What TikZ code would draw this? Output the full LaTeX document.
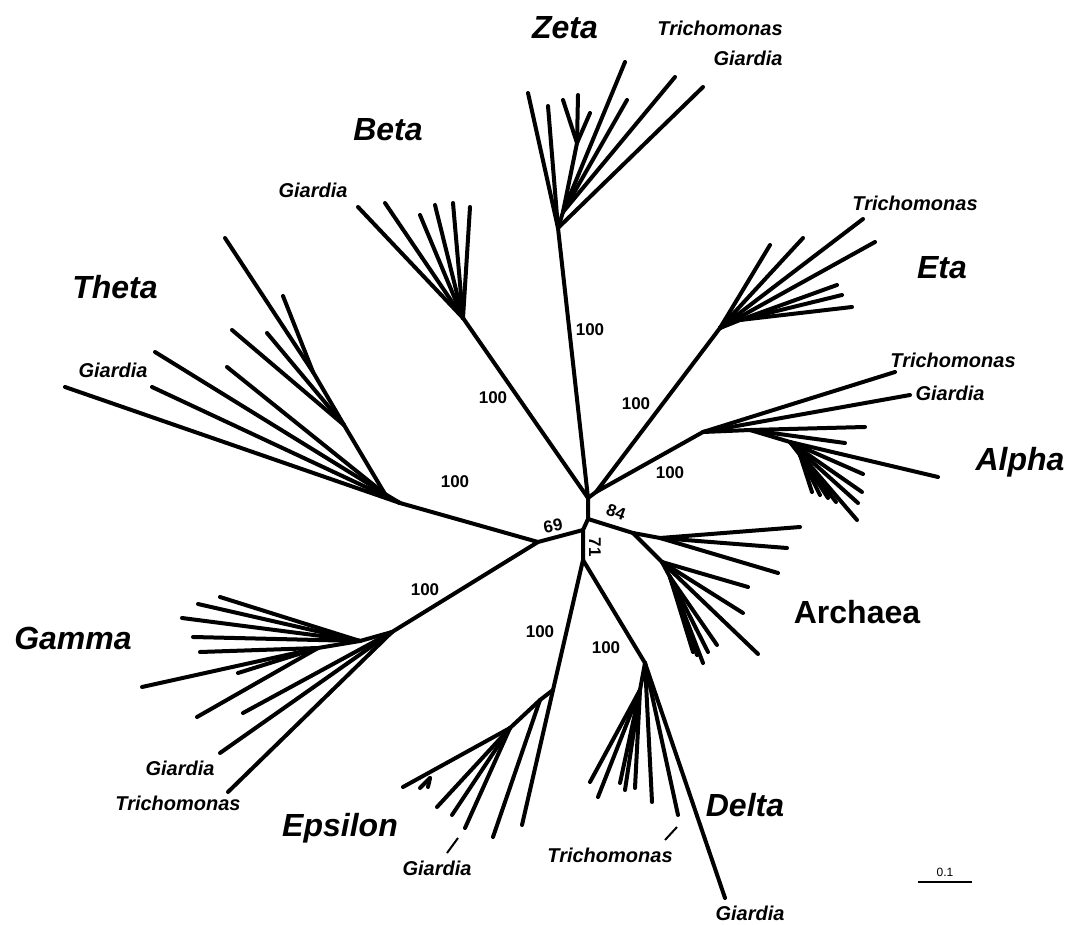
\documentclass[tikz,border=0pt]{standalone}
\usepackage{fontspec}
\setmainfont{Liberation Sans}
\usetikzlibrary{positioning}

\begin{document}
\begin{tikzpicture}[x=1pt, y=-1pt,
    br/.style={line width=4pt, line cap=round, line join=round},
    tick/.style={line width=2pt},
    clade/.style={font=\fontsize{32}{36}\selectfont\bfseries\itshape},
    taxon/.style={font=\fontsize{20}{23}\selectfont\bfseries\itshape},
    boot/.style={font=\fontsize{17}{20}\selectfont\bfseries, inner sep=0.5pt},
]
\useasboundingbox (0,0) rectangle (1073,925);

% backbone
\coordinate (TOP) at (588,498);
\coordinate (EA)  at (596,492);
\coordinate (MID) at (588,519);
\coordinate (LOW) at (583,530);
\coordinate (N69) at (538,542);
\coordinate (N71) at (583,560);
\coordinate (ZET) at (558,228);
\coordinate (BET) at (463,318);
\coordinate (ETA) at (720,328);
\coordinate (ALP) at (703,432);
\coordinate (ARC) at (633,533);
\coordinate (THE) at (400,503);
\coordinate (GAM) at (392,632);
\coordinate (EPS) at (553,690);
\coordinate (DEL) at (645,663);

\draw[br] (BET) -- (TOP) -- (ZET);
\draw[br] (TOP) -- (EA);
\draw[br] (ETA) -- (EA) -- (ALP);
\draw[br] (TOP) -- (MID) -- (ARC);
\draw[br] (MID) -- (LOW) -- (N71);
\draw[br] (LOW) -- (N69);
\draw[br] (THE) -- (N69) -- (GAM);
\draw[br] (EPS) -- (N71) -- (DEL);

% Zeta
\coordinate (ZE1) at (563,212);
\coordinate (ZE2) at (577,143);
\coordinate (ZTr) at (675,77);
\coordinate (ZGi) at (703,87);
\draw[br] (ZET) -- (ZE1) -- (ZE2);
\draw[br] (ZE1) -- (ZTr);
\draw[br] (ZET) -- (ZGi);
\foreach \p in {(528,93),(548,106)} \draw[br] (ZET) -- \p;
\foreach \p in {(625,62),(627,100)} \draw[br] (ZE1) -- \p;
\foreach \p in {(563,100),(578,95),(590,113)} \draw[br] (ZE2) -- \p;

% Beta
\coordinate (BGi) at (358,207);
\draw[br] (BET) -- (BGi);
\foreach \p in {(385,203),(420,215),(435,205),(453,203),(470,207)} \draw[br] (BET) -- \p;

% Theta
\coordinate (TH1) at (385,494);
\coordinate (TH2) at (344,425);
\coordinate (TH3) at (313,372);
\coordinate (THGi) at (65,387);
\draw[br] (THE) -- (TH1) -- (TH2) -- (TH3);
\draw[br] (THE) -- (THGi);
\draw[br] (THE) -- (152,387);
\foreach \p in {(155,352),(227,367)} \draw[br] (TH1) -- \p;
\foreach \p in {(232,330),(267,333)} \draw[br] (TH2) -- \p;
\foreach \p in {(225,238),(283,296)} \draw[br] (TH3) -- \p;

% Eta
\coordinate (ET1) at (740,320);
\coordinate (ETr) at (863,219);
\draw[br] (ETA) -- (ETr);
\draw[br] (ETA) -- (ET1);
\foreach \p in {(770,245),(803,238),(875,242)} \draw[br] (ETA) -- \p;
\foreach \p in {(837,285),(842,295),(852,307)} \draw[br] (ET1) -- \p;

% Alpha
\coordinate (AL1) at (750,430);
\coordinate (AL2) at (790,442);
\coordinate (AL3) at (800,455);
\coordinate (ATr) at (895,372);
\coordinate (AGi) at (910,395);
\draw[br] (ALP) -- (ATr);
\draw[br] (ALP) -- (AGi);
\draw[br] (ALP) -- (AL1) -- (AL2) -- (AL3);
\foreach \p in {(865,427),(845,443)} \draw[br] (AL1) -- \p;
\foreach \p in {(938,477),(863,474),(862,492),(858,503),(857,520)} \draw[br] (AL2) -- \p;
\foreach \p in {(812,492),(820,495),(828,498),(836,502)} \draw[br] (AL3) -- \p;

% Archaea
\coordinate (AR1) at (660,538);
\coordinate (AR2) at (662,562);
\coordinate (AR3) at (670,577);
\draw[br] (ARC) -- (AR1);
\draw[br] (ARC) -- (AR2) -- (AR3);
\foreach \p in {(800,527),(787,548),(778,573)} \draw[br] (AR1) -- \p;
\foreach \p in {(748,587),(743,613),(758,654)} \draw[br] (AR2) -- \p;
\foreach \p in {(703,663),(717,645),(697,655),(708,652),(693,652)} \draw[br] (AR3) -- \p;

% Gamma
\coordinate (GA1) at (360,641);
\coordinate (GA2) at (318,648);
\coordinate (GGi) at (220,753);
\coordinate (GTr) at (228,792);
\draw[br] (GAM) -- (GGi);
\draw[br] (GAM) -- (GTr);
\draw[br] (GAM) -- (243,713);
\draw[br] (GAM) -- (GA1) -- (GA2);
\foreach \p in {(220,597),(198,604),(182,618),(193,637)} \draw[br] (GA1) -- \p;
\foreach \p in {(200,652),(142,687),(238,673),(197,717)} \draw[br] (GA2) -- \p;

% Epsilon
\coordinate (EP1) at (540,700);
\coordinate (EP2) at (510,728);
\coordinate (EP3) at (430,778);
\coordinate (EGi) at (465,828);
\draw[br] (EPS) -- (522,825);
\draw[br] (EPS) -- (EP1) -- (EP2);
\draw[br] (EP1) -- (493,837);
\draw[br] (EP2) -- (EGi);
\foreach \p in {(452,815),(437,807),(403,787)} \draw[br] (EP2) -- \p;
\foreach \p in {(420,788),(428,787)} \draw[br] (EP3) -- \p;
\draw[tick] (458,838) -- (447,853);

% Delta
\coordinate (DE1) at (640,690);
\coordinate (DTr) at (678,815);
\coordinate (DGi) at (725,898);
\draw[br] (DEL) -- (DGi);
\draw[br] (DEL) -- (DTr);
\draw[br] (DEL) -- (652,802);
\draw[br] (DEL) -- (DE1);
\foreach \p in {(590,782),(598,797),(620,783),(625,790),(635,788)} \draw[br] (DE1) -- \p;
\draw[tick] (677,827) -- (665,840);

% clade names
\node[clade] (Zeta) at (565,28) {Zeta};
\node[clade] (Beta) at (388,130) {Beta};
\node[clade] (Theta) at (115,287) {Theta};
\node[clade] (Eta) at (942,268) {Eta};
\node[clade] (Alpha) at (1020,462) {Alpha};
\node[clade, font=\fontsize{32}{36}\selectfont\bfseries] (Archaea) at (857,612) {Archaea};
\node[clade] (Gamma) at (73,638) {Gamma};
\node[clade] (Epsilon) at (340,828) {Epsilon};
\node[clade] (Delta) at (745,805) {Delta};

% taxa
\node[taxon] (ZTrL) at (720,28) {Trichomonas};
\node[taxon] (ZGiL) at (748,58) {Giardia};
\node[taxon] (BGiL) at (313,190) {Giardia};
\node[taxon] (THGiL) at (113,370) {Giardia};
\node[taxon] (ETrL) at (915,203) {Trichomonas};
\node[taxon] (ATrL) at (953,360) {Trichomonas};
\node[taxon] (AGiL) at (950,393) {Giardia};
\node[taxon] (GGiL) at (180,768) {Giardia};
\node[taxon] (GTrL) at (178,803) {Trichomonas};
\node[taxon] (EGiL) at (437,868) {Giardia};
\node[taxon] (DTrL) at (610,855) {Trichomonas};
\node[taxon] (DGiL) at (750,913) {Giardia};

% bootstrap values
\node[boot] at (590,330) {100};
\node[boot] at (493,398) {100};
\node[boot] at (636,404) {100};
\node[boot] at (670,473) {100};
\node[boot] at (455,482) {100};
\node[boot] at (425,590) {100};
\node[boot] at (540,632) {100};
\node[boot] at (606,648) {100};
\node[boot, rotate=10] at (553,526) {69};
\node[boot, rotate=-20] at (616,512) {84};
\node[boot, rotate=-90] at (595,547) {71};

% scale
\coordinate (SC1) at (918,882);
\coordinate (SC2) at (972,882);
\draw[line width=2.5pt] (SC1) -- node[above=1pt, font=\fontsize{12}{14}\selectfont] {0.1} (SC2);
\end{tikzpicture}
\end{document}
